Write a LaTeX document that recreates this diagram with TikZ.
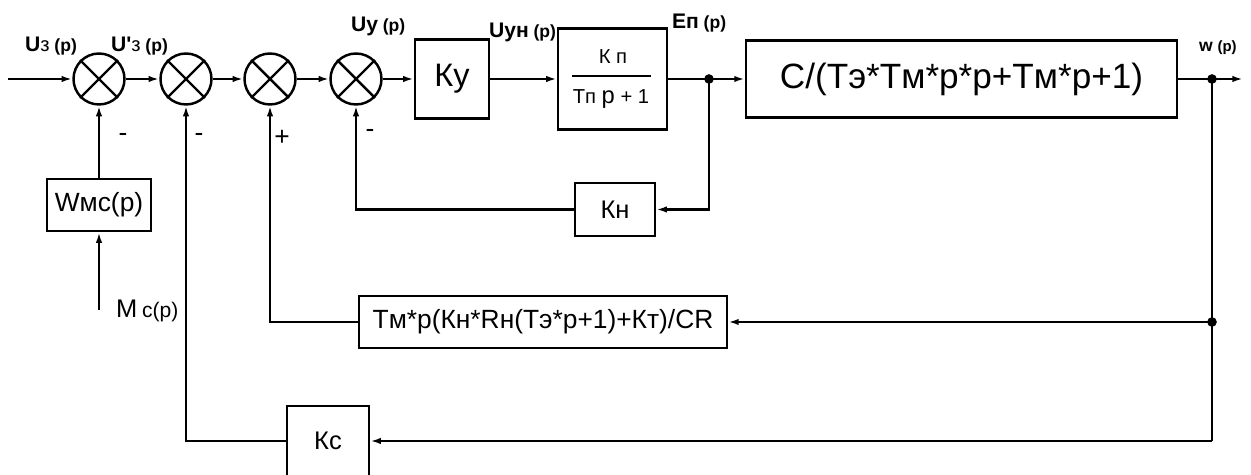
\documentclass[tikz,border=0pt]{standalone}
\usepackage{fontspec}
\setmainfont{Liberation Sans}
\newfontfamily\rawf{Liberation Sans}
\usetikzlibrary{arrows.meta}
\begin{document}
\begin{tikzpicture}[x=0.02cm,y=-0.02cm, line width=1.2pt,
  blk/.style={draw, rectangle, inner sep=0pt, line width=1.4pt},
  sumc/.style={draw, circle, minimum size=1.02cm, inner sep=0pt, line width=1.4pt},
  arr/.style={-{Latex[length=6pt,width=3.6pt]}},
  lbl/.style={anchor=base west, inner sep=0pt},
  sgn/.style={font=\fontsize{15}{17}\selectfont, inner sep=0pt},
  jdot/.style={circle, fill, minimum size=5.5pt, inner sep=0pt}]
\useasboundingbox (0,0) rectangle (1251,475);
\newcommand{\bigU}[1]{{\bfseries\fontsize{12}{14}\selectfont #1}}
\newcommand{\smP}{{\bfseries\fontsize{10}{12}\selectfont (p)}}

% summing junctions
\node[sumc] (s1) at (99,79) {};
\node[sumc] (s2) at (186,79) {};
\node[sumc] (s3) at (270,79) {};
\node[sumc] (s4) at (356,79) {};
\foreach \s in {s1,s2,s3,s4}{
  \draw[line width=1.4pt] (\s.north west) -- (\s.south east) (\s.north east) -- (\s.south west);
}

% blocks
\node[blk, minimum width=1.48cm, minimum height=1.58cm, font=\fontsize{18.5}{20}\selectfont] (ky) at (452,79) {Ку};
\node[blk, minimum width=2.18cm, minimum height=2.02cm] (kp) at (612.5,79) {};
\node[inner sep=0pt, font=\fontsize{11.5}{13}\selectfont] (kpn) at (613,57) {К п};
\node[inner sep=0pt, font=\fontsize{11.5}{13}\selectfont] (kpd) at (611,99) {Tп {\fontsize{13.5}{16}\selectfont p} + 1};
\draw[line width=1.2pt] (572,76) -- (651,76);
\node[blk, minimum width=8.62cm, minimum height=1.54cm, font=\fontsize{20}{22}\selectfont] (big) at (961.5,79) {C/(Tэ*Tм*p*p+Tм*p+1)};
\node[blk, minimum width=1.6cm, minimum height=1.06cm, font=\fontsize{14.5}{16}\selectfont] (kn) at (615,209.5) {Кн};
\node[blk, minimum width=7.36cm, minimum height=1.04cm, font=\fontsize{15}{17}\selectfont] (tm) at (543,322) {Tм*p(Кн*Rн(Tэ*p+1)+Кт)/CR};
\node[blk, minimum width=1.64cm, minimum height=1.4cm, font=\fontsize{14.5}{16}\selectfont] (kc) at (328,441) {Кс};
\node[blk, minimum width=2.08cm, minimum height=1.04cm, font=\fontsize{15}{17}\selectfont] (wmc) at (99,205) {Wмс(p)};

% junction points
\node[jdot] (j1) at (709,79) {};
\node[jdot] (j2) at (1212,79) {};
\node[jdot] (j3) at (1212,322) {};
\coordinate (in) at (8,79);
\coordinate (out) at (1243,79);
\coordinate (mc) at (99,310);
\coordinate (bot) at (1212,441);

% forward path
\draw[arr] (in) -- (s1.west);
\draw[arr] (s1.east) -- (s2.west);
\draw[arr] (s2.east) -- (s3.west);
\draw[arr] (s3.east) -- (s4.west);
\draw[arr] (s4.east) -- (ky.west);
\draw[arr] (ky.east) -- (kp.west);
\draw (kp.east) -- (j1.center);
\draw[arr] (j1.center) -- (big.west);
\draw (big.east) -- (j2.center);
\draw[arr] (j2.center) -- (out);

% feedback paths
\draw[arr] (j1.center) |- (kn.east);
\draw[arr] (kn.west) -| (s4.south);
\draw (j2.center) -- (bot);
\draw[arr] (j3.center) -- (tm.east);
\draw[arr] (tm.west) -| (s3.south);
\draw[arr] (bot) -- (kc.east);
\draw[arr] (kc.west) -| (s2.south);
\draw[arr] (wmc.north) -- (s1.south);
\draw[arr] (mc) -- (wmc.south);

% signal labels
\node[lbl] (l1) at (24,52) {\bigU{U}{\fontsize{11.5}{13}\selectfont з} \smP};
\node[lbl] (l2) at (110,52) {\bigU{U{\rawf '}}{\fontsize{11.5}{13}\selectfont з} \smP};
\node[lbl] (l3) at (350,32) {\bigU{Uу} \smP};
\node[lbl] (l4) at (488,38) {\bigU{Uун} \smP};
\node[lbl] (l5) at (671,29) {\bigU{Eп} \smP};
\node[lbl] (l6) at (1198,52) {{\bfseries\fontsize{10}{12}\selectfont w} {\bfseries\fontsize{8.5}{10}\selectfont (p)}};
\node[lbl] (l7) at (115,318) {{\fontsize{14.5}{16}\selectfont M} {\fontsize{12}{14}\selectfont c(p)}};

% signs
\node[sgn] (g1) at (123,137) {-};
\node[sgn] (g2) at (199,137) {-};
\node[sgn] (g3) at (282,138) {+};
\node[sgn] (g4) at (370,133) {-};
\end{tikzpicture}
\end{document}
